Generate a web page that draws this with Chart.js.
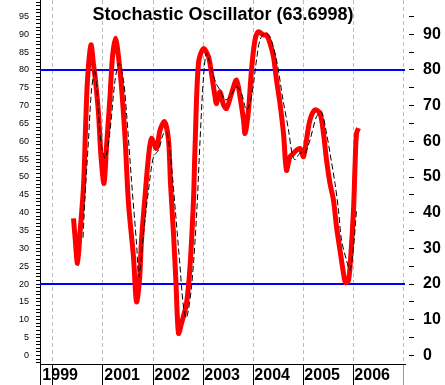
<!DOCTYPE html>
<html>
<head>
<meta charset="utf-8">
<script src="https://cdn.jsdelivr.net/npm/chart.js@4/dist/chart.umd.min.js"></script>
<style>
  body { margin: 0; background: #fff; }
  #wrap { width: 445px; height: 385px; }
</style>
</head>
<body>
<div id="wrap"><canvas id="myChart" width="445" height="385"></canvas></div>
<script>
// %K line (red)
const kYears = [2000.41, 2000.44, 2000.49, 2000.54, 2000.61, 2000.65, 2000.69, 2000.76, 2000.81, 2000.85,
  2000.91, 2000.96, 2001.02, 2001.07, 2001.14, 2001.19, 2001.25, 2001.31, 2001.37, 2001.44,
  2001.51, 2001.61, 2001.67, 2001.73, 2001.77, 2001.84, 2001.91, 2001.97, 2002.07, 2002.14,
  2002.23, 2002.31, 2002.35, 2002.41, 2002.46, 2002.51, 2002.57, 2002.67, 2002.74, 2002.81,
  2002.84, 2002.91, 2003.01, 2003.11, 2003.17, 2003.24, 2003.27, 2003.34, 2003.41, 2003.47,
  2003.57, 2003.67, 2003.74, 2003.81, 2003.84, 2003.91, 2003.97, 2004.04, 2004.11, 2004.21,
  2004.27, 2004.34, 2004.41, 2004.47, 2004.54, 2004.61, 2004.67, 2004.74, 2004.81, 2004.87,
  2004.94, 2005.01, 2005.07, 2005.14, 2005.24, 2005.34, 2005.41, 2005.47, 2005.54, 2005.61,
  2005.67, 2005.74, 2005.81, 2005.85, 2005.91, 2005.95, 2006.01, 2006.04, 2006.07, 2006.11];
const kValues = [38.4, 33.3, 25.8, 34.3, 47.3, 63.2, 77.2, 87.0, 81.5, 77.0,
  67.9, 55.7, 48.2, 58.5, 72.5, 83.7, 88.9, 83.7, 75.3, 61.3,
  42.6, 27.6, 15.0, 21.1, 32.3, 44.5, 55.7, 60.8, 58.0, 63.1,
  65.5, 60.4, 48.2, 34.2, 20.2, 6.2, 9.0, 14.6, 24.8, 43.5,
  58.0, 82.0, 86.0, 83.7, 79.0, 72.5, 70.6, 73.9, 70.2, 69.2,
  73.4, 77.2, 72.5, 66.0, 62.2, 68.8, 80.0, 88.4, 90.7, 89.8,
  89.8, 87.5, 83.7, 77.2, 70.6, 62.2, 51.9, 55.7, 56.6, 57.5,
  58.0, 55.7, 60.4, 66.0, 68.8, 67.8, 62.2, 54.8, 48.2, 43.5,
  36.1, 29.5, 23.0, 20.4, 21.1, 26.7, 40.7, 52.9, 62.2, 63.7];

// %D signal line (black dashed)
const dYears = [2000.60, 2000.64, 2000.71, 2000.77, 2000.84, 2000.91, 2000.97, 2001.05, 2001.14, 2001.24,
  2001.32, 2001.41, 2001.47, 2001.57, 2001.67, 2001.72, 2001.81, 2001.91, 2002.01, 2002.11,
  2002.21, 2002.28, 2002.37, 2002.44, 2002.53, 2002.61, 2002.67, 2002.77, 2002.87, 2002.94,
  2003.01, 2003.07, 2003.17, 2003.27, 2003.34, 2003.44, 2003.54, 2003.67, 2003.77, 2003.87,
  2003.97, 2004.07, 2004.14, 2004.24, 2004.34, 2004.47, 2004.60, 2004.71, 2004.78, 2004.84,
  2004.94, 2005.04, 2005.14, 2005.27, 2005.37, 2005.47, 2005.54, 2005.64, 2005.71, 2005.77,
  2005.87, 2005.94, 2006.01, 2006.07];
const dValues = [33.0, 44.5, 60.4, 74.4, 80.0, 68.0, 58.5, 55.3, 63.0, 77.0,
  81.9, 77.0, 68.0, 49.0, 31.5, 22.0, 34.3, 46.3, 55.7, 57.5,
  62.2, 62.5, 52.9, 41.7, 26.7, 13.6, 10.5, 19.2, 38.9, 60.0,
  78.0, 84.7, 80.0, 76.0, 74.4, 71.6, 72.5, 75.3, 73.4, 68.8,
  72.5, 82.8, 88.4, 90.3, 89.3, 82.8, 71.6, 63.2, 56.7, 54.8,
  56.7, 56.7, 60.4, 66.9, 68.3, 62.3, 56.7, 48.2, 40.7, 32.3,
  26.7, 23.9, 30.4, 40.7];

const overbought = 80;
const oversold = 20;
const yearTicks = [1999.76, 2000, 2001, 2002, 2003, 2004, 2005, 2006, 2007];
const yearLabels = ["1999", "", "2001", "2002", "2003", "2004", "2005", "2006", ""];
const titleText = "Stochastic Oscillator (63.6998)";

const xMin = 1999.74;
const xMax = 2007.04;

const toPoints = (xs, ys) => xs.map((x, i) => ({ x: x, y: ys[i] }));
const flat = (v) => [{ x: xMin, y: v }, { x: xMax, y: v }];

// no extra room around the axes, the plot runs to the top edge
const noPad = (axis) => {
  axis.paddingTop = 0;
  axis.paddingBottom = 0;
  axis.paddingLeft = 0;
  axis.paddingRight = 0;
};

const titlePlugin = {
  id: "topTitle",
  afterDraw(chart) {
    const ctx = chart.ctx;
    ctx.save();
    ctx.font = "bold 18px 'Liberation Sans', Arial, sans-serif";
    ctx.fillStyle = "#000";
    ctx.textAlign = "center";
    ctx.textBaseline = "alphabetic";
    ctx.fillText(titleText, 223, 20);
    ctx.restore();
  }
};

new Chart(document.getElementById("myChart"), {
  type: "line",
  data: {
    datasets: [
      {
        data: toPoints(dYears, dValues),
        borderColor: "#000",
        borderWidth: 1,
        borderDash: [6, 3],
        pointRadius: 0,
        tension: 0.3,
        order: 0,
        yAxisID: "y",
      },
      {
        data: toPoints(kYears, kValues),
        borderColor: "#ff0000",
        borderWidth: 5,
        pointRadius: 0,
        tension: 0.3,
        order: 1,
        yAxisID: "y",
      },
      {
        data: flat(overbought),
        borderColor: "#0000ff",
        borderWidth: 2,
        pointRadius: 0,
        order: 2,
        yAxisID: "y",
      },
      {
        data: flat(oversold),
        borderColor: "#0000ff",
        borderWidth: 2,
        pointRadius: 0,
        order: 2,
        yAxisID: "y",
      },
    ],
  },
  options: {
    responsive: false,
    animation: false,
    layout: { padding: 0 },
    plugins: {
      legend: { display: false },
      tooltip: { enabled: false },
    },
    scales: {
      x: {
        type: "linear",
        min: xMin,
        max: xMax,
        afterBuildTicks: (axis) => {
          axis.ticks = yearTicks.map((v) => ({ value: v }));
        },
        afterFit: (axis) => { axis.height = 21; noPad(axis); },
        ticks: {
          autoSkip: false,
          maxRotation: 0,
          align: "start",
          padding: -19,
          color: "#000",
          font: { size: 16, weight: "bold", family: "'Liberation Sans Narrow', 'Liberation Sans', Arial, sans-serif" },
          callback: (value) => {
            const i = yearTicks.indexOf(value);
            return i >= 0 ? "\u200A" + yearLabels[i] : "";
          },
        },
        grid: {
          color: "#bbbbbb",
          tickLength: 21,
          tickColor: (c) => (c.tick && c.tick.value === 2007 ? "#999999" : "#000"),
          tickBorderDash: [],
        },
        border: { display: true, color: "#000", width: 1, dash: [4, 3] },
      },
      y: {
        position: "left",
        min: -2.4,
        max: 99.6,
        afterBuildTicks: (axis) => {
          const t = [];
          for (let v = -2; v <= 99; v++) t.push({ value: v });
          axis.ticks = t;
        },
        afterFit: (axis) => { axis.width = 40; noPad(axis); },
        ticks: {
          autoSkip: false,
          padding: 7,
          color: "#000",
          font: { size: 9, family: "'Liberation Sans', Arial, sans-serif" },
          callback: (value) => (value >= 0 && value % 5 === 0 ? String(value) : ""),
        },
        grid: {
          drawOnChartArea: false,
          tickLength: 4,
          tickColor: "#000",
        },
        border: { display: true, color: "#000", width: 1 },
      },
      y2: {
        position: "right",
        min: -2.4,
        max: 99.6,
        afterBuildTicks: (axis) => {
          const t = [];
          for (let v = 0; v <= 95; v += 5) t.push({ value: v });
          axis.ticks = t;
        },
        afterFit: (axis) => { axis.width = 40; noPad(axis); },
        ticks: {
          autoSkip: false,
          padding: 9,
          color: "#000",
          font: { size: 16, weight: "bold", family: "'Liberation Sans', Arial, sans-serif" },
          callback: (value) => (value % 10 === 0 ? String(value) : ""),
        },
        grid: {
          drawOnChartArea: false,
          tickLength: 9,
          tickColor: "#000",
          tickBorderDash: [0, 4, 5, 0],
        },
        border: { display: false },
      },
    },
  },
  plugins: [titlePlugin],
});
</script>
</body>
</html>
